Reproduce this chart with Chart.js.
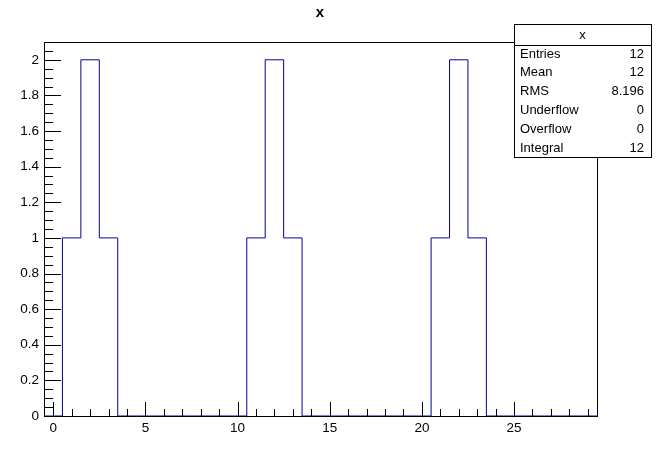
<!DOCTYPE html>
<html>
<head>
<meta charset="utf-8">
<script src="https://cdn.jsdelivr.net/npm/chart.js@4"></script>
<style>
  html, body { margin: 0; padding: 0; background: #fff; }
  #wrap { width: 660px; height: 452px; }
</style>
</head>
<body>
<div id="wrap"><canvas id="histo"></canvas></div>
<script>
const histTitle = 'x';
const binCenters = [0, 1, 2, 3, 4, 5, 6, 7, 8, 9, 10, 11, 12, 13, 14, 15, 16, 17, 18, 19, 20, 21, 22, 23, 24, 25, 26, 27, 28, 29];
const binCounts = [0, 1, 2, 1, 0, 0, 0, 0, 0, 0, 0, 1, 2, 1, 0, 0, 0, 0, 0, 0, 0, 1, 2, 1, 0, 0, 0, 0, 0, 0];
const xTicks = [0, 5, 10, 15, 20, 25];
const yTicks = [0, 0.2, 0.4, 0.6, 0.8, 1, 1.2, 1.4, 1.6, 1.8, 2];
const statNames = ['Entries', 'Mean', 'RMS', 'Underflow', 'Overflow', 'Integral'];
const statValues = ['12', '12', '8.196', '0', '0', '12'];

const lineColor = '#000099';
const font = '"Liberation Sans", Arial, Helvetica, sans-serif';

// bin low edges with the bin content, plus the last high edge
const stepPoints = binCenters.map((c, i) => ({ x: c - 0.5, y: binCounts[i] }));
stepPoints.push({ x: binCenters[binCenters.length - 1] + 0.5, y: binCounts[binCounts.length - 1] });

const rootFrame = {
    id: 'rootFrame',
    afterDatasetsDraw(chart) {
        const ctx = chart.ctx;
        const a = chart.chartArea;
        const xs = chart.scales.x;
        const ys = chart.scales.y;
        ctx.save();
        ctx.strokeStyle = '#000';
        ctx.lineWidth = 1;

        // frame
        ctx.strokeRect(Math.round(a.left) + 0.5, Math.round(a.top) + 0.5,
            Math.round(a.right - a.left), Math.round(a.bottom - a.top));

        // x ticks, pointing into the frame
        ctx.beginPath();
        for (let v = 0; v <= 29; v++) {
            const px = Math.round(xs.getPixelForValue(v)) + 0.5;
            const len = v % 5 === 0 ? 14 : 7;
            ctx.moveTo(px, a.bottom);
            ctx.lineTo(px, a.bottom - len);
        }
        // y ticks
        for (let k = 0; k <= 41; k++) {
            const v = k * 0.05;
            const py = Math.round(ys.getPixelForValue(v)) + 0.5;
            const len = k % 4 === 0 ? 17 : 9;
            ctx.moveTo(a.left, py);
            ctx.lineTo(a.left + len, py);
        }
        ctx.stroke();

        // title
        ctx.fillStyle = '#000';
        ctx.font = 'bold 15px ' + font;
        ctx.textAlign = 'center';
        ctx.textBaseline = 'middle';
        ctx.fillText(histTitle, 320, 12.5);

        // stats box
        const bx = 514, by = 24, bw = 137, bh = 133;
        ctx.fillStyle = '#fff';
        ctx.fillRect(bx, by, bw, bh);
        ctx.strokeRect(bx + 0.5, by + 0.5, bw, bh);
        ctx.beginPath();
        ctx.moveTo(bx, by + 21.5);
        ctx.lineTo(bx + bw, by + 21.5);
        ctx.stroke();

        ctx.fillStyle = '#000';
        ctx.font = '13px ' + font;
        ctx.fillText(histTitle, bx + bw / 2, by + 11);
        statNames.forEach((name, i) => {
            const ty = 54 + i * 18.8;
            ctx.textAlign = 'left';
            ctx.fillText(name, bx + 6, ty);
            ctx.textAlign = 'right';
            ctx.fillText(statValues[i], bx + bw - 7, ty);
        });
        ctx.restore();
    }
};

new Chart(document.getElementById('histo'), {
    type: 'line',
    data: {
        datasets: [{
            data: stepPoints,
            stepped: 'before',
            borderColor: lineColor,
            borderWidth: 1,
            pointRadius: 0,
            fill: false
        }]
    },
    options: {
        responsive: true,
        maintainAspectRatio: false,
        animation: false,
        devicePixelRatio: 1,
        layout: { padding: { top: 42, right: 63, left: 0, bottom: 0 } },
        plugins: {
            legend: { display: false },
            title: { display: false },
            tooltip: { enabled: false }
        },
        scales: {
            x: {
                type: 'linear',
                min: -0.5,
                max: 29.5,
                grid: { display: false, drawTicks: false },
                border: { display: false },
                afterBuildTicks: s => { s.ticks = xTicks.map(v => ({ value: v })); },
                afterFit: s => { s.height = 36; },
                ticks: {
                    padding: 4,
                    maxRotation: 0,
                    color: '#000',
                    font: { family: font, size: 13.5 },
                    callback: v => String(v)
                }
            },
            y: {
                type: 'linear',
                min: 0,
                max: 2.1,
                grid: { display: false, drawTicks: false },
                border: { display: false },
                afterBuildTicks: s => { s.ticks = yTicks.map(v => ({ value: v })); },
                afterFit: s => { s.width = 44; },
                ticks: {
                    padding: 5,
                    color: '#000',
                    font: { family: font, size: 13.5 },
                    callback: v => String(Math.round(v * 10) / 10)
                }
            }
        }
    },
    plugins: [rootFrame]
});
</script>
</body>
</html>
